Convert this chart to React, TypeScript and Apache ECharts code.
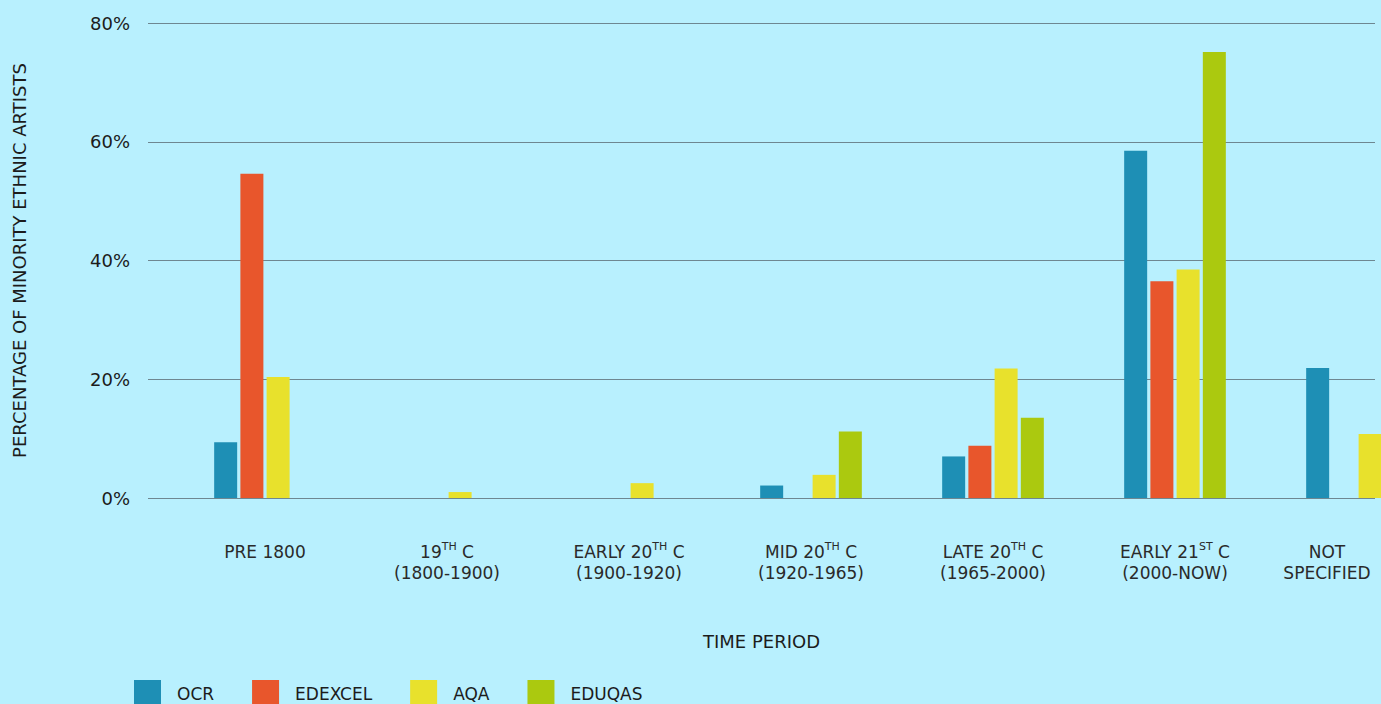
import React, { useEffect, useRef } from "react";
import * as echarts from "echarts";

const CATEGORIES = [
  "PRE 1800",
  "19TH C\n(1800-1900)",
  "EARLY 20TH C\n(1900-1920)",
  "MID 20TH C\n(1920-1965)",
  "LATE 20TH C\n(1965-2000)",
  "EARLY 21ST C\n(2000-NOW)",
  "NOT\nSPECIFIED",
];

const SERIES_NAMES = ["OCR", "EDEXCEL", "AQA", "EDUQAS"];
const OCR = [9.4, 0, 0, 2.1, 7.0, 58.5, 21.9];
const EDEXCEL = [54.6, 0, 0, 0, 8.8, 36.5, 0];
const AQA = [20.4, 1.0, 2.5, 3.9, 21.8, 38.5, 10.8];
const EDUQAS = [0, 0, 0, 11.2, 13.5, 75.1, 0];

const Y_MIN = 0;
const Y_MAX = 80;
const Y_STEP = 20;

const COLORS = ["#1e8fb5", "#e8562c", "#e8e12c", "#abc90f"];
const FONT = "DejaVu Sans";
const TEXT = "#1c1c1c";

const VIEW_W = 1381;
const VIEW_H = 704;
const CHART_W = 1460;

export default function App() {
  const ref = useRef<HTMLDivElement>(null);

  useEffect(() => {
    if (!ref.current) return;
    const chart = echarts.init(ref.current, null, { renderer: "svg" });
    const values = [OCR, EDEXCEL, AQA, EDUQAS];
    const lastIndex = CATEGORIES.length - 1;

    const option: any = {
      animation: false,
      backgroundColor: "#b8f0fe",
      textStyle: { fontFamily: FONT },
      legend: {
        data: SERIES_NAMES,
        left: 134,
        top: 680,
        padding: 0,
        itemWidth: 27,
        itemHeight: 27,
        itemGap: 38,
        icon: "rect",
        textStyle: {
          fontFamily: FONT,
          fontSize: 17,
          color: TEXT,
          padding: [0, 0, 0, 11],
        },
      },
      grid: [
        { left: 148, right: CHART_W - 1375, top: 23, bottom: 206 },
        { left: 174, width: 1274, top: 23, bottom: 206 },
      ],
      xAxis: [
        {
          gridIndex: 0,
          type: "category",
          data: CATEGORIES,
          axisLine: { show: false },
          axisTick: { show: false },
          axisLabel: { show: false },
          name: "TIME PERIOD",
          nameLocation: "middle",
          nameGap: 134,
          nameTextStyle: { fontFamily: FONT, fontSize: 18, color: TEXT },
        },
        {
          gridIndex: 1,
          type: "category",
          data: CATEGORIES.map((c, i) =>
            i === lastIndex
              ? { value: c, textStyle: { padding: [0, 60, 0, 0] } }
              : c
          ),
          axisLine: { show: false },
          axisTick: { show: false },
          axisLabel: {
            interval: 0,
            margin: 43,
            fontFamily: FONT,
            fontSize: 17,
            lineHeight: 21,
            color: "#2a2a2a",
            formatter: (v: string) => v.replace(/(\d)(TH|ST)/g, "$1{sup|$2}"),
            rich: {
              sup: {
                fontFamily: FONT,
                fontSize: 11,
                lineHeight: 14,
                verticalAlign: "top",
                color: "#2a2a2a",
              },
            },
          },
        },
      ],
      yAxis: [
        {
          gridIndex: 0,
          type: "value",
          min: Y_MIN,
          max: Y_MAX,
          interval: Y_STEP,
          axisLine: { show: false },
          axisTick: { show: false },
          axisLabel: {
            formatter: "{value}%",
            margin: 18,
            fontFamily: FONT,
            fontSize: 18,
            color: TEXT,
          },
          splitLine: { lineStyle: { color: "#6e8791", width: 1 } },
          name: "PERCENTAGE OF MINORITY ETHNIC ARTISTS",
          nameLocation: "middle",
          nameGap: 120,
          nameTextStyle: { fontFamily: FONT, fontSize: 18, color: TEXT },
        },
        {
          gridIndex: 1,
          type: "value",
          min: Y_MIN,
          max: Y_MAX,
          show: false,
          splitLine: { show: false },
        },
      ],
      series: SERIES_NAMES.map((name, i) => ({
        name,
        type: "bar",
        xAxisIndex: 1,
        yAxisIndex: 1,
        data: values[i],
        barWidth: 23,
        barGap: "14%",
        itemStyle: { color: COLORS[i] },
      })),
    };

    chart.setOption(option);
    return () => chart.dispose();
  }, []);

  return (
    <div
      style={{
        position: "fixed",
        left: 0,
        top: 0,
        width: VIEW_W,
        height: VIEW_H,
        overflow: "hidden",
        background: "#b8f0fe",
      }}
    >
      <div ref={ref} style={{ width: CHART_W, height: VIEW_H }} />
    </div>
  );
}
